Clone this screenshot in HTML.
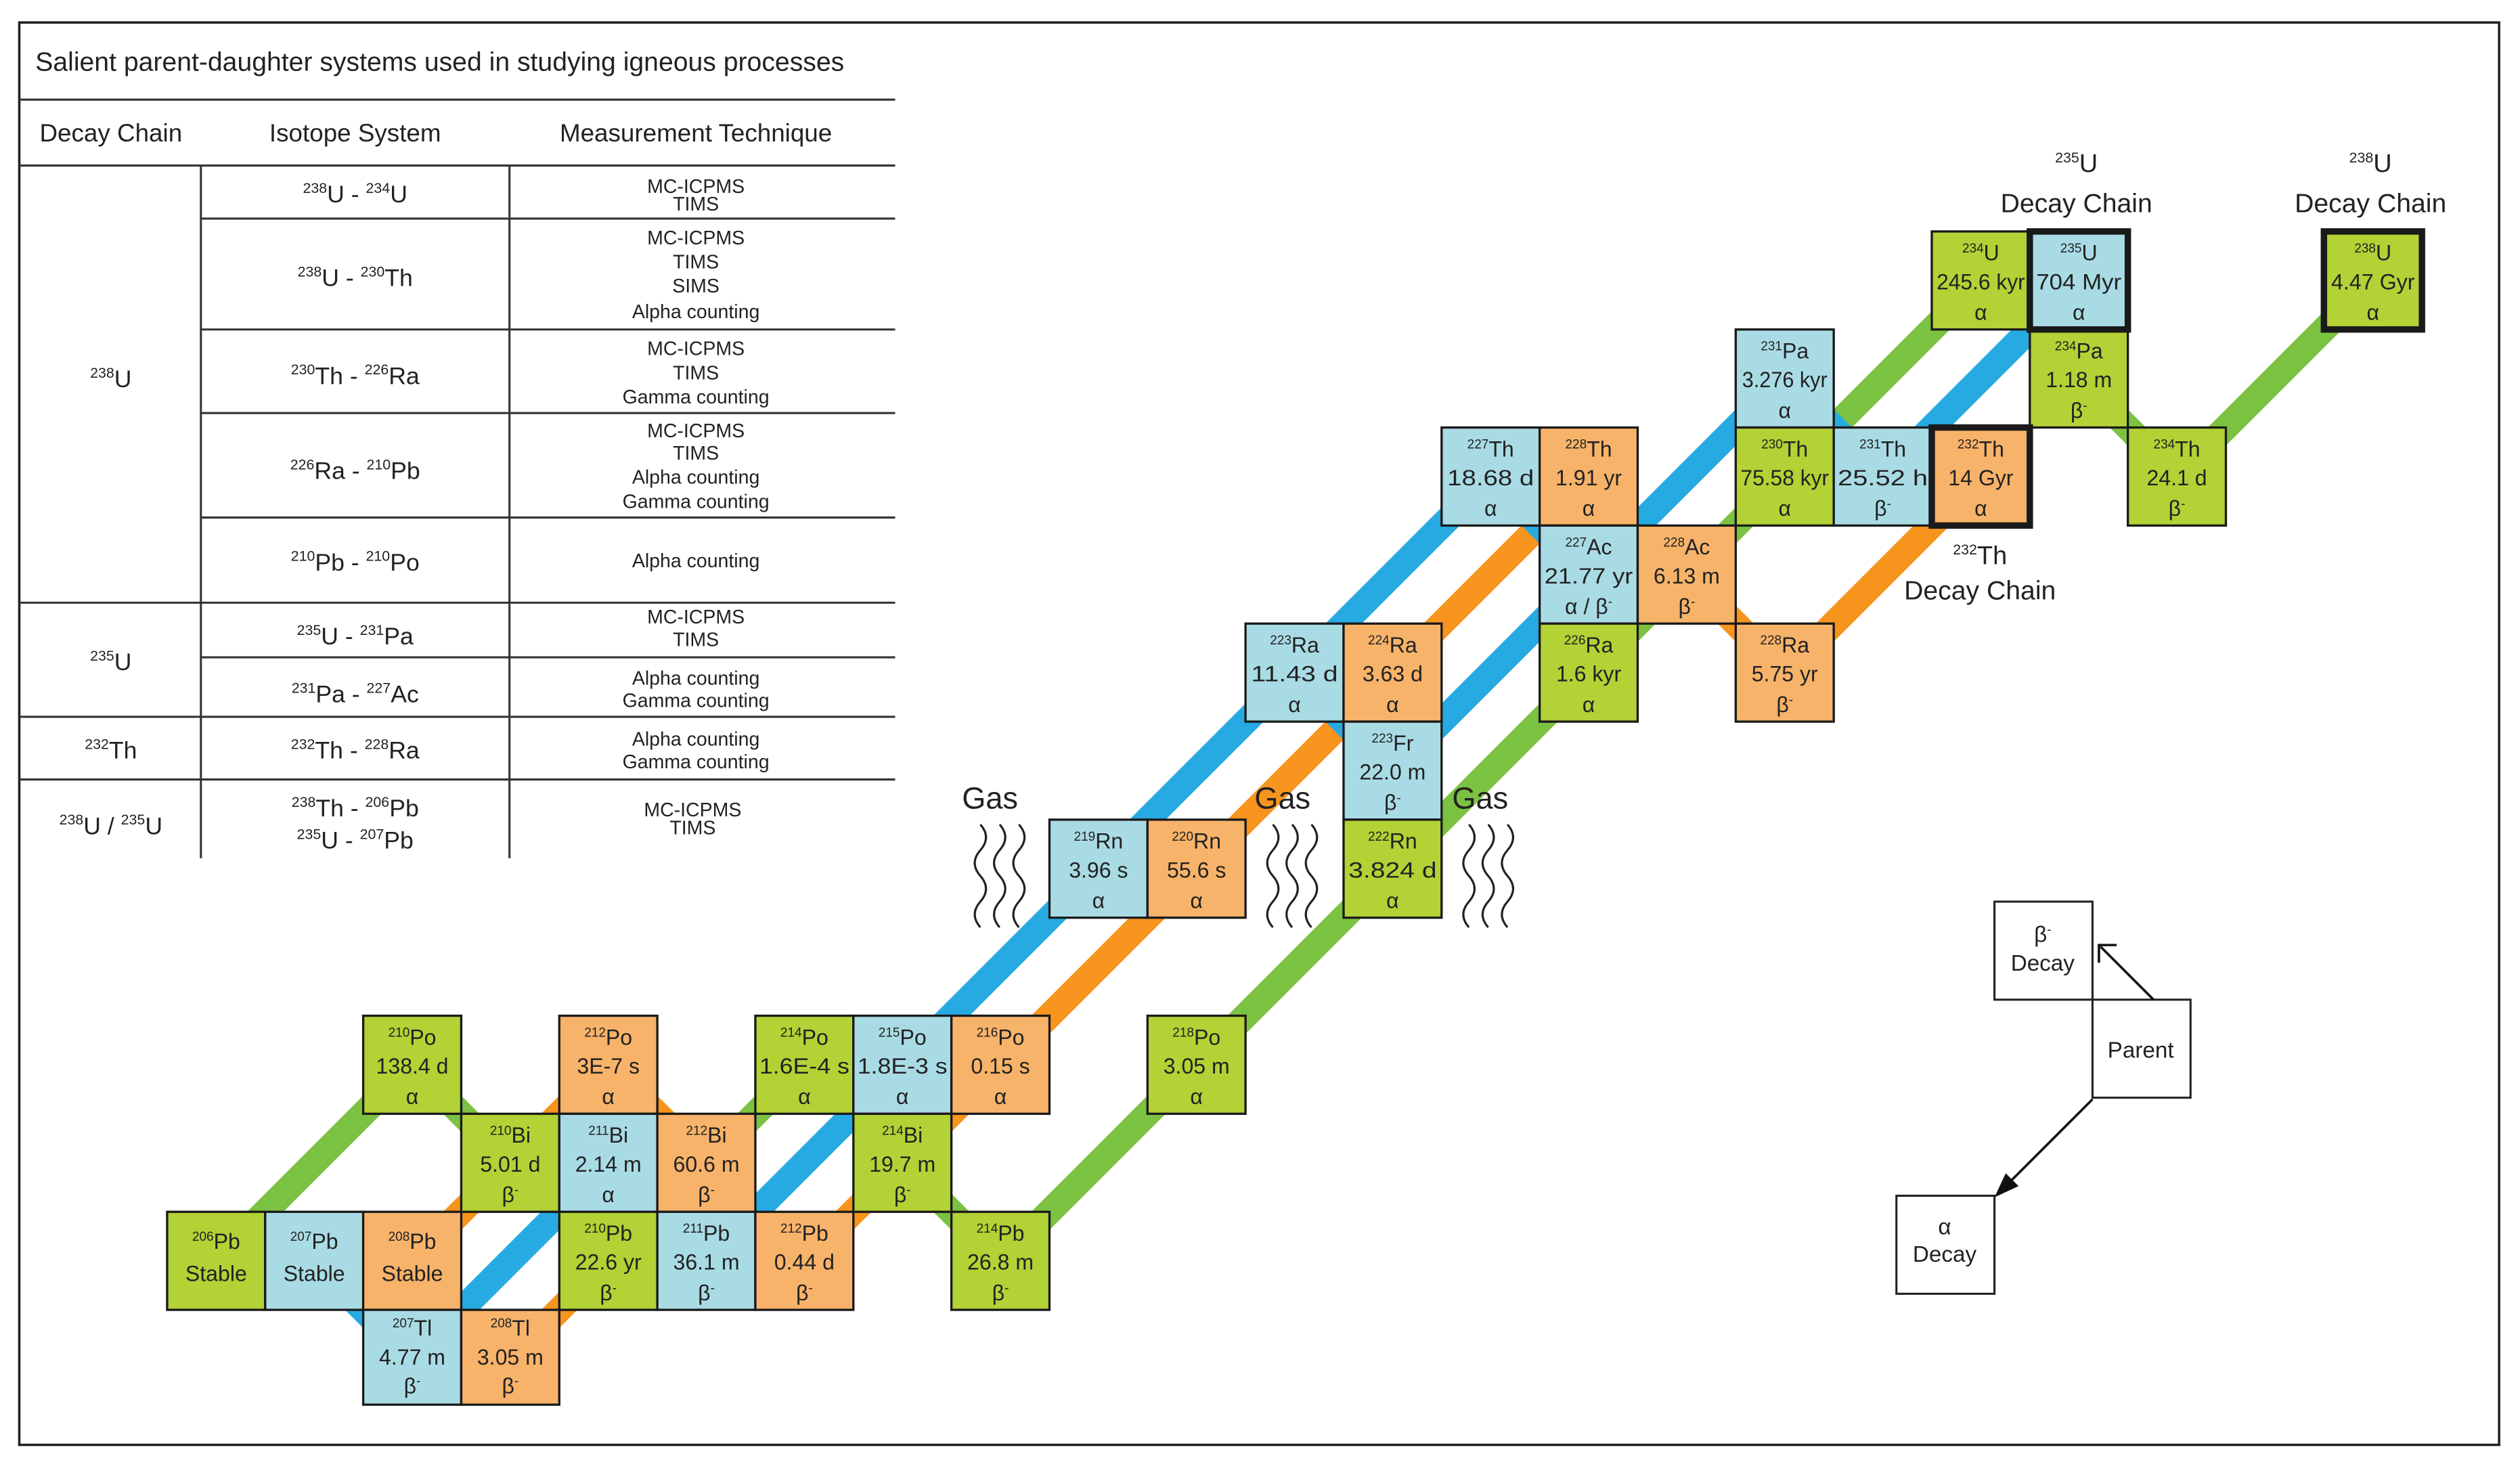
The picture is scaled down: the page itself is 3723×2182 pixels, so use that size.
<!DOCTYPE html>
<html><head><meta charset="utf-8"><style>
html,body{margin:0;padding:0;background:#fff}
svg{display:block}
text{font-family:"Liberation Sans",sans-serif;fill:#222;text-anchor:middle}
.c text{font-size:13.5px}
.m{font-size:8px}
.g{fill:#b2d235;stroke:#1a1a1a;stroke-width:1.4}
.b{fill:#a9dbe5;stroke:#1a1a1a;stroke-width:1.4}
.o{fill:#f8b36a;stroke:#1a1a1a;stroke-width:1.4}
.k{stroke-width:4}
.t{font-size:12px}
.iso{font-size:15px}
.sm{font-size:9px}
.cl{font-size:16px}
.cl .m{font-size:9px}
</style></head><body>
<svg width="3723" height="2182" viewBox="0 0 1568 919" preserveAspectRatio="none" xmlns="http://www.w3.org/2000/svg">
<rect x="12" y="14" width="1543" height="885" fill="none" stroke="#222" stroke-width="1.5"/>
<text x="22" y="44" style="text-anchor:start;font-size:16.5px">Salient parent-daughter systems used in studying igneous processes</text>
<g stroke="#333" stroke-width="1.3">
<line x1="12" y1="62" x2="557" y2="62"/>
<line x1="12" y1="103" x2="557" y2="103"/>
<line x1="125" y1="136" x2="557" y2="136"/>
<line x1="125" y1="205" x2="557" y2="205"/>
<line x1="125" y1="257" x2="557" y2="257"/>
<line x1="125" y1="322" x2="557" y2="322"/>
<line x1="12" y1="375" x2="557" y2="375"/>
<line x1="125" y1="409" x2="557" y2="409"/>
<line x1="12" y1="446" x2="557" y2="446"/>
<line x1="12" y1="485" x2="557" y2="485"/>
<line x1="125" y1="103" x2="125" y2="534"/>
<line x1="317" y1="103" x2="317" y2="534"/>
</g>
<text x="69" y="88" style="font-size:15.5px">Decay Chain</text>
<text x="221" y="88" style="font-size:15.5px">Isotope  System</text>
<text x="433" y="88" style="font-size:15.5px">Measurement Technique</text>
<g class="iso">
<text x="69" y="241" class="iso"><tspan class="sm" dy="-6">238</tspan><tspan dy="6">U</tspan></text>
<text x="69" y="417" class="iso"><tspan class="sm" dy="-6">235</tspan><tspan dy="6">U</tspan></text>
<text x="69" y="472" class="iso"><tspan class="sm" dy="-6">232</tspan><tspan dy="6">Th</tspan></text>
<text x="69" y="519" class="iso"><tspan class="sm" dy="-6">238</tspan><tspan dy="6">U / </tspan><tspan class="sm" dy="-6">235</tspan><tspan dy="6">U</tspan></text>
<text x="221" y="126" class="iso"><tspan class="sm" dy="-6">238</tspan><tspan dy="6">U - </tspan><tspan class="sm" dy="-6">234</tspan><tspan dy="6">U</tspan></text>
<text x="221" y="178" class="iso"><tspan class="sm" dy="-6">238</tspan><tspan dy="6">U - </tspan><tspan class="sm" dy="-6">230</tspan><tspan dy="6">Th</tspan></text>
<text x="221" y="239" class="iso"><tspan class="sm" dy="-6">230</tspan><tspan dy="6">Th - </tspan><tspan class="sm" dy="-6">226</tspan><tspan dy="6">Ra</tspan></text>
<text x="221" y="298" class="iso"><tspan class="sm" dy="-6">226</tspan><tspan dy="6">Ra - </tspan><tspan class="sm" dy="-6">210</tspan><tspan dy="6">Pb</tspan></text>
<text x="221" y="355" class="iso"><tspan class="sm" dy="-6">210</tspan><tspan dy="6">Pb - </tspan><tspan class="sm" dy="-6">210</tspan><tspan dy="6">Po</tspan></text>
<text x="221" y="401" class="iso"><tspan class="sm" dy="-6">235</tspan><tspan dy="6">U - </tspan><tspan class="sm" dy="-6">231</tspan><tspan dy="6">Pa</tspan></text>
<text x="221" y="437" class="iso"><tspan class="sm" dy="-6">231</tspan><tspan dy="6">Pa - </tspan><tspan class="sm" dy="-6">227</tspan><tspan dy="6">Ac</tspan></text>
<text x="221" y="472" class="iso"><tspan class="sm" dy="-6">232</tspan><tspan dy="6">Th - </tspan><tspan class="sm" dy="-6">228</tspan><tspan dy="6">Ra</tspan></text>
<text x="221" y="508" class="iso"><tspan class="sm" dy="-6">238</tspan><tspan dy="6">Th - </tspan><tspan class="sm" dy="-6">206</tspan><tspan dy="6">Pb</tspan></text>
<text x="221" y="528" class="iso"><tspan class="sm" dy="-6">235</tspan><tspan dy="6">U - </tspan><tspan class="sm" dy="-6">207</tspan><tspan dy="6">Pb</tspan></text>
</g>
<g class="t">
<text x="433" y="120" class="t">MC-ICPMS</text><text x="433" y="131" class="t">TIMS</text>
<text x="433" y="152" class="t">MC-ICPMS</text><text x="433" y="167" class="t">TIMS</text><text x="433" y="182" class="t">SIMS</text><text x="433" y="198" class="t">Alpha counting</text>
<text x="433" y="221" class="t">MC-ICPMS</text><text x="433" y="236" class="t">TIMS</text><text x="433" y="251" class="t">Gamma counting</text>
<text x="433" y="272" class="t">MC-ICPMS</text><text x="433" y="286" class="t">TIMS</text><text x="433" y="301" class="t">Alpha counting</text><text x="433" y="316" class="t">Gamma counting</text>
<text x="433" y="353" class="t">Alpha counting</text>
<text x="433" y="388" class="t">MC-ICPMS</text><text x="433" y="402" class="t">TIMS</text>
<text x="433" y="426" class="t">Alpha counting</text><text x="433" y="440" class="t">Gamma counting</text>
<text x="433" y="464" class="t">Alpha counting</text><text x="433" y="478" class="t">Gamma counting</text>
<text x="431" y="508" class="t">MC-ICPMS</text><text x="431" y="519" class="t">TIMS</text>
</g>
<g fill="none" stroke-width="16" stroke-linejoin="miter">
<polyline stroke="#7cc242" points="1476.5,174.5 1354.5,296.5 1293.5,235.5 1232.5,174.5 1110.5,296.5 988.5,418.5 866.5,540.5 744.5,662.5 622.5,784.5 561.5,723.5 500.5,662.5 378.5,784.5 317.5,723.5 256.5,662.5 134.5,784.5"/>
<polyline stroke="#f7941d" points="1232.5,296.5 1110.5,418.5 1049.5,357.5 988.5,296.5 866.5,418.5 744.5,540.5 622.5,662.5 500.5,784.5 439.5,723.5 317.5,845.5"/>
<polyline stroke="#f7941d" points="439.5,723.5 378.5,662.5 256.5,784.5"/>
<polyline stroke="#27aae1" points="1293.5,174.5 1171.5,296.5 1110.5,235.5 988.5,357.5 927.5,296.5 805.5,418.5 683.5,540.5 561.5,662.5 439.5,784.5 378.5,723.5 256.5,845.5 195.5,784.5"/>
<polyline stroke="#27aae1" points="988.5,357.5 866.5,479.5 805.5,418.5"/>
</g>
<g class="c">
<g transform="translate(1202,144)"><rect width="61" height="61" class="g"/><text x="30.5" y="18"><tspan class="m" dy="-5">234</tspan><tspan dy="5">U</tspan></text><text x="30.5" y="36" textLength="55" lengthAdjust="spacingAndGlyphs">245.6 kyr</text><text x="30.5" y="55">α</text></g>
<g transform="translate(1446,144)"><rect width="61" height="61" class="g k"/><text x="30.5" y="18"><tspan class="m" dy="-5">238</tspan><tspan dy="5">U</tspan></text><text x="30.5" y="36" textLength="52" lengthAdjust="spacingAndGlyphs">4.47 Gyr</text><text x="30.5" y="55">α</text></g>
<g transform="translate(1080,205)"><rect width="61" height="61" class="b"/><text x="30.5" y="18"><tspan class="m" dy="-5">231</tspan><tspan dy="5">Pa</tspan></text><text x="30.5" y="36" textLength="53" lengthAdjust="spacingAndGlyphs">3.276 kyr</text><text x="30.5" y="55">α</text></g>
<g transform="translate(1263,205)"><rect width="61" height="61" class="g"/><text x="30.5" y="18"><tspan class="m" dy="-5">234</tspan><tspan dy="5">Pa</tspan></text><text x="30.5" y="36">1.18 m</text><text x="30.5" y="55">β<tspan class="m" dy="-5">-</tspan></text></g>
<g transform="translate(1263,144)"><rect width="61" height="61" class="b k"/><text x="30.5" y="18"><tspan class="m" dy="-5">235</tspan><tspan dy="5">U</tspan></text><text x="30.5" y="36" textLength="53" lengthAdjust="spacingAndGlyphs">704 Myr</text><text x="30.5" y="55">α</text></g>
<g transform="translate(897,266)"><rect width="61" height="61" class="b"/><text x="30.5" y="18"><tspan class="m" dy="-5">227</tspan><tspan dy="5">Th</tspan></text><text x="30.5" y="36" textLength="54" lengthAdjust="spacingAndGlyphs">18.68 d</text><text x="30.5" y="55">α</text></g>
<g transform="translate(958,266)"><rect width="61" height="61" class="o"/><text x="30.5" y="18"><tspan class="m" dy="-5">228</tspan><tspan dy="5">Th</tspan></text><text x="30.5" y="36">1.91 yr</text><text x="30.5" y="55">α</text></g>
<g transform="translate(1080,266)"><rect width="61" height="61" class="g"/><text x="30.5" y="18"><tspan class="m" dy="-5">230</tspan><tspan dy="5">Th</tspan></text><text x="30.5" y="36" textLength="55" lengthAdjust="spacingAndGlyphs">75.58 kyr</text><text x="30.5" y="55">α</text></g>
<g transform="translate(1141,266)"><rect width="61" height="61" class="b"/><text x="30.5" y="18"><tspan class="m" dy="-5">231</tspan><tspan dy="5">Th</tspan></text><text x="30.5" y="36" textLength="56" lengthAdjust="spacingAndGlyphs">25.52 h</text><text x="30.5" y="55">β<tspan class="m" dy="-5">-</tspan></text></g>
<g transform="translate(1324,266)"><rect width="61" height="61" class="g"/><text x="30.5" y="18"><tspan class="m" dy="-5">234</tspan><tspan dy="5">Th</tspan></text><text x="30.5" y="36">24.1 d</text><text x="30.5" y="55">β<tspan class="m" dy="-5">-</tspan></text></g>
<g transform="translate(1202,266)"><rect width="61" height="61" class="o k"/><text x="30.5" y="18"><tspan class="m" dy="-5">232</tspan><tspan dy="5">Th</tspan></text><text x="30.5" y="36">14 Gyr</text><text x="30.5" y="55">α</text></g>
<g transform="translate(958,327)"><rect width="61" height="61" class="b"/><text x="30.5" y="18"><tspan class="m" dy="-5">227</tspan><tspan dy="5">Ac</tspan></text><text x="30.5" y="36" textLength="55" lengthAdjust="spacingAndGlyphs">21.77 yr</text><text x="30.5" y="55">α / β<tspan class="m" dy="-5">-</tspan></text></g>
<g transform="translate(1019,327)"><rect width="61" height="61" class="o"/><text x="30.5" y="18"><tspan class="m" dy="-5">228</tspan><tspan dy="5">Ac</tspan></text><text x="30.5" y="36">6.13 m</text><text x="30.5" y="55">β<tspan class="m" dy="-5">-</tspan></text></g>
<g transform="translate(775,388)"><rect width="61" height="61" class="b"/><text x="30.5" y="18"><tspan class="m" dy="-5">223</tspan><tspan dy="5">Ra</tspan></text><text x="30.5" y="36" textLength="54" lengthAdjust="spacingAndGlyphs">11.43 d</text><text x="30.5" y="55">α</text></g>
<g transform="translate(836,388)"><rect width="61" height="61" class="o"/><text x="30.5" y="18"><tspan class="m" dy="-5">224</tspan><tspan dy="5">Ra</tspan></text><text x="30.5" y="36">3.63 d</text><text x="30.5" y="55">α</text></g>
<g transform="translate(958,388)"><rect width="61" height="61" class="g"/><text x="30.5" y="18"><tspan class="m" dy="-5">226</tspan><tspan dy="5">Ra</tspan></text><text x="30.5" y="36">1.6 kyr</text><text x="30.5" y="55">α</text></g>
<g transform="translate(1080,388)"><rect width="61" height="61" class="o"/><text x="30.5" y="18"><tspan class="m" dy="-5">228</tspan><tspan dy="5">Ra</tspan></text><text x="30.5" y="36">5.75 yr</text><text x="30.5" y="55">β<tspan class="m" dy="-5">-</tspan></text></g>
<g transform="translate(836,449)"><rect width="61" height="61" class="b"/><text x="30.5" y="18"><tspan class="m" dy="-5">223</tspan><tspan dy="5">Fr</tspan></text><text x="30.5" y="36">22.0 m</text><text x="30.5" y="55">β<tspan class="m" dy="-5">-</tspan></text></g>
<g transform="translate(653,510)"><rect width="61" height="61" class="b"/><text x="30.5" y="18"><tspan class="m" dy="-5">219</tspan><tspan dy="5">Rn</tspan></text><text x="30.5" y="36">3.96 s</text><text x="30.5" y="55">α</text></g>
<g transform="translate(714,510)"><rect width="61" height="61" class="o"/><text x="30.5" y="18"><tspan class="m" dy="-5">220</tspan><tspan dy="5">Rn</tspan></text><text x="30.5" y="36">55.6 s</text><text x="30.5" y="55">α</text></g>
<g transform="translate(836,510)"><rect width="61" height="61" class="g"/><text x="30.5" y="18"><tspan class="m" dy="-5">222</tspan><tspan dy="5">Rn</tspan></text><text x="30.5" y="36" textLength="55" lengthAdjust="spacingAndGlyphs">3.824 d</text><text x="30.5" y="55">α</text></g>
<g transform="translate(226,632)"><rect width="61" height="61" class="g"/><text x="30.5" y="18"><tspan class="m" dy="-5">210</tspan><tspan dy="5">Po</tspan></text><text x="30.5" y="36">138.4 d</text><text x="30.5" y="55">α</text></g>
<g transform="translate(348,632)"><rect width="61" height="61" class="o"/><text x="30.5" y="18"><tspan class="m" dy="-5">212</tspan><tspan dy="5">Po</tspan></text><text x="30.5" y="36">3E-7 s</text><text x="30.5" y="55">α</text></g>
<g transform="translate(470,632)"><rect width="61" height="61" class="g"/><text x="30.5" y="18"><tspan class="m" dy="-5">214</tspan><tspan dy="5">Po</tspan></text><text x="30.5" y="36" textLength="56" lengthAdjust="spacingAndGlyphs">1.6E-4 s</text><text x="30.5" y="55">α</text></g>
<g transform="translate(531,632)"><rect width="61" height="61" class="b"/><text x="30.5" y="18"><tspan class="m" dy="-5">215</tspan><tspan dy="5">Po</tspan></text><text x="30.5" y="36" textLength="56" lengthAdjust="spacingAndGlyphs">1.8E-3 s</text><text x="30.5" y="55">α</text></g>
<g transform="translate(592,632)"><rect width="61" height="61" class="o"/><text x="30.5" y="18"><tspan class="m" dy="-5">216</tspan><tspan dy="5">Po</tspan></text><text x="30.5" y="36">0.15 s</text><text x="30.5" y="55">α</text></g>
<g transform="translate(714,632)"><rect width="61" height="61" class="g"/><text x="30.5" y="18"><tspan class="m" dy="-5">218</tspan><tspan dy="5">Po</tspan></text><text x="30.5" y="36">3.05 m</text><text x="30.5" y="55">α</text></g>
<g transform="translate(287,693)"><rect width="61" height="61" class="g"/><text x="30.5" y="18"><tspan class="m" dy="-5">210</tspan><tspan dy="5">Bi</tspan></text><text x="30.5" y="36">5.01 d</text><text x="30.5" y="55">β<tspan class="m" dy="-5">-</tspan></text></g>
<g transform="translate(348,693)"><rect width="61" height="61" class="b"/><text x="30.5" y="18"><tspan class="m" dy="-5">211</tspan><tspan dy="5">Bi</tspan></text><text x="30.5" y="36">2.14 m</text><text x="30.5" y="55">α</text></g>
<g transform="translate(409,693)"><rect width="61" height="61" class="o"/><text x="30.5" y="18"><tspan class="m" dy="-5">212</tspan><tspan dy="5">Bi</tspan></text><text x="30.5" y="36">60.6 m</text><text x="30.5" y="55">β<tspan class="m" dy="-5">-</tspan></text></g>
<g transform="translate(531,693)"><rect width="61" height="61" class="g"/><text x="30.5" y="18"><tspan class="m" dy="-5">214</tspan><tspan dy="5">Bi</tspan></text><text x="30.5" y="36">19.7 m</text><text x="30.5" y="55">β<tspan class="m" dy="-5">-</tspan></text></g>
<g transform="translate(104,754)"><rect width="61" height="61" class="g"/><text x="30.5" y="23"><tspan class="m" dy="-5">206</tspan><tspan dy="5">Pb</tspan></text><text x="30.5" y="43">Stable</text></g>
<g transform="translate(165,754)"><rect width="61" height="61" class="b"/><text x="30.5" y="23"><tspan class="m" dy="-5">207</tspan><tspan dy="5">Pb</tspan></text><text x="30.5" y="43">Stable</text></g>
<g transform="translate(226,754)"><rect width="61" height="61" class="o"/><text x="30.5" y="23"><tspan class="m" dy="-5">208</tspan><tspan dy="5">Pb</tspan></text><text x="30.5" y="43">Stable</text></g>
<g transform="translate(348,754)"><rect width="61" height="61" class="g"/><text x="30.5" y="18"><tspan class="m" dy="-5">210</tspan><tspan dy="5">Pb</tspan></text><text x="30.5" y="36">22.6 yr</text><text x="30.5" y="55">β<tspan class="m" dy="-5">-</tspan></text></g>
<g transform="translate(409,754)"><rect width="61" height="61" class="b"/><text x="30.5" y="18"><tspan class="m" dy="-5">211</tspan><tspan dy="5">Pb</tspan></text><text x="30.5" y="36">36.1 m</text><text x="30.5" y="55">β<tspan class="m" dy="-5">-</tspan></text></g>
<g transform="translate(470,754)"><rect width="61" height="61" class="o"/><text x="30.5" y="18"><tspan class="m" dy="-5">212</tspan><tspan dy="5">Pb</tspan></text><text x="30.5" y="36">0.44 d</text><text x="30.5" y="55">β<tspan class="m" dy="-5">-</tspan></text></g>
<g transform="translate(592,754)"><rect width="61" height="61" class="g"/><text x="30.5" y="18"><tspan class="m" dy="-5">214</tspan><tspan dy="5">Pb</tspan></text><text x="30.5" y="36">26.8 m</text><text x="30.5" y="55">β<tspan class="m" dy="-5">-</tspan></text></g>
<g transform="translate(226,815)"><rect width="61" height="59" class="b"/><text x="30.5" y="16"><tspan class="m" dy="-5">207</tspan><tspan dy="5">Tl</tspan></text><text x="30.5" y="34">4.77 m</text><text x="30.5" y="52">β<tspan class="m" dy="-5">-</tspan></text></g>
<g transform="translate(287,815)"><rect width="61" height="59" class="o"/><text x="30.5" y="16"><tspan class="m" dy="-5">208</tspan><tspan dy="5">Tl</tspan></text><text x="30.5" y="34">3.05 m</text><text x="30.5" y="52">β<tspan class="m" dy="-5">-</tspan></text></g>
</g>
<text x="1292" y="107" class="cl"><tspan class="m" dy="-6">235</tspan><tspan dy="6">U</tspan></text>
<text x="1292" y="132" style="font-size:16.5px">Decay Chain</text>
<text x="1475" y="107" class="cl"><tspan class="m" dy="-6">238</tspan><tspan dy="6">U</tspan></text>
<text x="1475" y="132" style="font-size:16.5px">Decay Chain</text>
<text x="1232" y="351" class="cl"><tspan class="m" dy="-6">232</tspan><tspan dy="6">Th</tspan></text>
<text x="1232" y="373" style="font-size:16.5px">Decay Chain</text>
<text x="616" y="503" style="font-size:19px">Gas</text>
<text x="798" y="503" style="font-size:19px">Gas</text>
<text x="921" y="503" style="font-size:19px">Gas</text>
<g fill="none" stroke="#222" stroke-width="1.3">
<path d="M610 513 q7 8 0 16 q-7 8 0 16 q7 8 0 16 q-7 8 0 16"/>
<path d="M622 513 q7 8 0 16 q-7 8 0 16 q7 8 0 16 q-7 8 0 16"/>
<path d="M634 513 q7 8 0 16 q-7 8 0 16 q7 8 0 16 q-7 8 0 16"/>
<path d="M792 513 q7 8 0 16 q-7 8 0 16 q7 8 0 16 q-7 8 0 16"/>
<path d="M804 513 q7 8 0 16 q-7 8 0 16 q7 8 0 16 q-7 8 0 16"/>
<path d="M816 513 q7 8 0 16 q-7 8 0 16 q7 8 0 16 q-7 8 0 16"/>
<path d="M914 513 q7 8 0 16 q-7 8 0 16 q7 8 0 16 q-7 8 0 16"/>
<path d="M926 513 q7 8 0 16 q-7 8 0 16 q7 8 0 16 q-7 8 0 16"/>
<path d="M938 513 q7 8 0 16 q-7 8 0 16 q7 8 0 16 q-7 8 0 16"/>
</g>
<g fill="#fff" stroke="#222" stroke-width="1.3">
<rect x="1241" y="561" width="61" height="61"/>
<rect x="1302" y="622" width="61" height="61"/>
<rect x="1180" y="744" width="61" height="61"/>
</g>
<text x="1271" y="586" style="font-size:14px">β<tspan class="m" dy="-5">-</tspan></text>
<text x="1271" y="604" style="font-size:14px">Decay</text>
<text x="1332" y="658" style="font-size:14px">Parent</text>
<text x="1210" y="768" style="font-size:14px">α</text>
<text x="1210" y="785" style="font-size:14px">Decay</text>
<g stroke="#111" stroke-width="1.5" fill="none">
<line x1="1340" y1="622" x2="1307" y2="589"/>
<polyline points="1306,599 1306,588 1317,588"/>
<line x1="1302" y1="684" x2="1250" y2="736"/>
</g>
<polygon points="1241,745 1256,738 1248,730" fill="#111"/>
</svg>
</body></html>
